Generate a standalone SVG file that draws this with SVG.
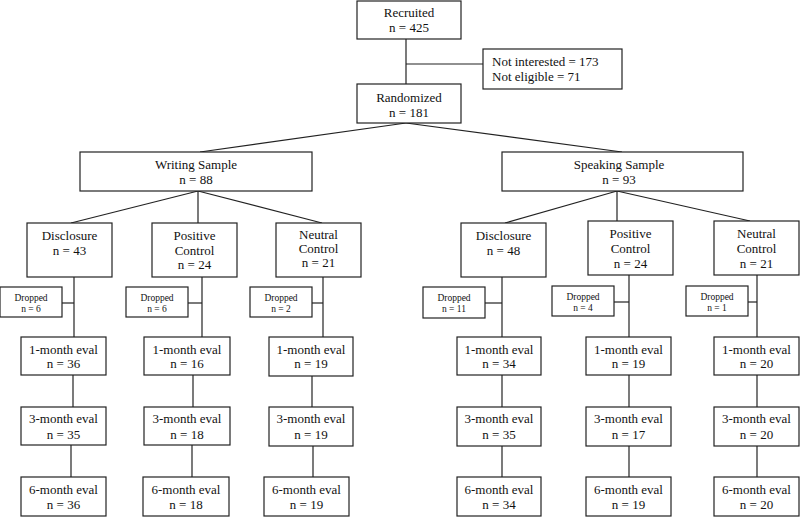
<svg xmlns="http://www.w3.org/2000/svg" width="800" height="517" viewBox="0 0 800 517">
<style>
rect{fill:#fff;stroke:#222;stroke-width:1.2}
line{stroke:#222;stroke-width:1.2}
text{font-size:13px;fill:#111;text-anchor:middle}
.s{font-size:9.5px}
.l{text-anchor:start}
</style>
<rect x="0" y="0" width="800" height="517" style="fill:#fff;stroke:none"/>
<g id="connectors">
<line x1="406" y1="39" x2="406" y2="84"/>
<line x1="406" y1="64" x2="483" y2="64"/>
<line x1="406" y1="123" x2="200" y2="152"/>
<line x1="406" y1="123" x2="622" y2="152"/>
<line x1="198" y1="191" x2="71" y2="223"/>
<line x1="198" y1="191" x2="198" y2="223"/>
<line x1="198" y1="191" x2="322" y2="223"/>
<line x1="617" y1="191" x2="505" y2="223"/>
<line x1="617" y1="191" x2="617" y2="221"/>
<line x1="617" y1="191" x2="750" y2="221"/>
<line x1="74" y1="277" x2="74" y2="337"/><line x1="62" y1="303" x2="74" y2="303"/>
<line x1="73" y1="375" x2="73" y2="407"/><line x1="71" y1="445" x2="71" y2="477"/>
<line x1="202" y1="277" x2="202" y2="337"/><line x1="188" y1="303" x2="202" y2="303"/>
<line x1="193" y1="375" x2="193" y2="407"/><line x1="192" y1="445" x2="192" y2="477"/>
<line x1="323" y1="277" x2="323" y2="337"/><line x1="312" y1="303" x2="323" y2="303"/>
<line x1="312" y1="376" x2="312" y2="407"/><line x1="313" y1="446" x2="313" y2="477"/>
<line x1="502" y1="277" x2="502" y2="337"/><line x1="485" y1="303" x2="502" y2="303"/>
<line x1="502" y1="375" x2="502" y2="407"/><line x1="502" y1="446" x2="502" y2="477"/>
<line x1="629" y1="275" x2="629" y2="337"/><line x1="614" y1="302" x2="629" y2="302"/>
<line x1="629" y1="375" x2="629" y2="407"/><line x1="629" y1="446" x2="629" y2="477"/>
<line x1="757" y1="275" x2="757" y2="337"/><line x1="748" y1="302" x2="757" y2="302"/>
<line x1="757" y1="375" x2="757" y2="407"/><line x1="757" y1="446" x2="757" y2="477"/>
</g>
<g font-family="Liberation Serif">
<g id="recruited"><rect x="357" y="1" width="104" height="38"/><text x="409" y="17">Recruited</text><text x="409" y="32">n = 425</text></g>
<g id="excluded"><rect x="483" y="49" width="139" height="40"/><text class="l" x="492" y="66">Not interested = 173</text><text class="l" x="492" y="81">Not eligible = 71</text></g>
<g id="randomized"><rect x="357" y="84" width="104" height="39"/><text x="409" y="101.5">Randomized</text><text x="409" y="116.5">n = 181</text></g>
<g id="writing"><rect x="80" y="152" width="232" height="39"/><text x="196" y="168.5">Writing Sample</text><text x="196" y="183.5">n = 88</text></g>
<g id="speaking"><rect x="502" y="152" width="241" height="39"/><text x="619" y="168.5">Speaking Sample</text><text x="619" y="183.5">n = 93</text></g>
<g id="w-disclosure"><rect x="27" y="223" width="85" height="54"/><text x="69.5" y="239.5">Disclosure</text><text x="69.5" y="254.5">n = 43</text></g>
<g id="w-positive"><rect x="152" y="223" width="85" height="54"/><text x="194.5" y="239.5">Positive</text><text x="194.5" y="254.5">Control</text><text x="194.5" y="268.5">n = 24</text></g>
<g id="w-neutral"><rect x="276" y="223" width="85" height="54"/><text x="318.5" y="239">Neutral</text><text x="318.5" y="252.5">Control</text><text x="318.5" y="267">n = 21</text></g>
<g id="s-disclosure"><rect x="461" y="223" width="85" height="54"/><text x="503.5" y="239.5">Disclosure</text><text x="503.5" y="254.5">n = 48</text></g>
<g id="s-positive"><rect x="588" y="221" width="85" height="54"/><text x="630.5" y="237.5">Positive</text><text x="630.5" y="252.5">Control</text><text x="630.5" y="267.5">n = 24</text></g>
<g id="s-neutral"><rect x="714" y="221" width="85" height="54"/><text x="756.5" y="237.5">Neutral</text><text x="756.5" y="252.5">Control</text><text x="756.5" y="267.5">n = 21</text></g>
<g id="w-d-dropped"><rect x="0" y="287" width="62" height="30"/><text class="s" x="31" y="300.5">Dropped</text><text class="s" x="31" y="311.5">n = 6</text></g>
<g id="w-p-dropped"><rect x="126" y="287" width="62" height="30"/><text class="s" x="157" y="300.5">Dropped</text><text class="s" x="157" y="311.5">n = 6</text></g>
<g id="w-n-dropped"><rect x="250" y="287" width="62" height="30"/><text class="s" x="281" y="300.5">Dropped</text><text class="s" x="281" y="311.5">n = 2</text></g>
<g id="s-d-dropped"><rect x="423" y="287" width="62" height="31"/><text class="s" x="454" y="300.5">Dropped</text><text class="s" x="454" y="311.5">n = 11</text></g>
<g id="s-p-dropped"><rect x="552" y="286" width="62" height="30"/><text class="s" x="583" y="299.5">Dropped</text><text class="s" x="583" y="310.5">n = 4</text></g>
<g id="s-n-dropped"><rect x="686" y="286" width="62" height="30"/><text class="s" x="717" y="299.5">Dropped</text><text class="s" x="717" y="310.5">n = 1</text></g>
<g id="w-d-1m"><rect x="21" y="337" width="85" height="38"/><text x="63.5" y="353.5">1-month eval</text><text x="63.5" y="367.5">n = 36</text></g>
<g id="w-d-3m"><rect x="21" y="407" width="85" height="38"/><text x="63.5" y="422.5">3-month eval</text><text x="63.5" y="438.5">n = 35</text></g>
<g id="w-d-6m"><rect x="21" y="477" width="85" height="39"/><text x="63.5" y="493.5">6-month eval</text><text x="63.5" y="508.5">n = 36</text></g>
<g id="w-p-1m"><rect x="144" y="337" width="86" height="38"/><text x="187" y="353.5">1-month eval</text><text x="187" y="367.5">n = 16</text></g>
<g id="w-p-3m"><rect x="144" y="407" width="86" height="38"/><text x="187" y="422.5">3-month eval</text><text x="187" y="438.5">n = 18</text></g>
<g id="w-p-6m"><rect x="143" y="477" width="86" height="39"/><text x="186" y="493.5">6-month eval</text><text x="186" y="508.5">n = 18</text></g>
<g id="w-n-1m"><rect x="269" y="337" width="84" height="39"/><text x="311" y="353.5">1-month eval</text><text x="311" y="367.5">n = 19</text></g>
<g id="w-n-3m"><rect x="269" y="407" width="84" height="39"/><text x="311" y="422.5">3-month eval</text><text x="311" y="438.5">n = 19</text></g>
<g id="w-n-6m"><rect x="264" y="477" width="85" height="39"/><text x="306.5" y="493.5">6-month eval</text><text x="306.5" y="508.5">n = 19</text></g>
<g id="s-d-1m"><rect x="457" y="337" width="84" height="38"/><text x="499" y="353.5">1-month eval</text><text x="499" y="367.5">n = 34</text></g>
<g id="s-d-3m"><rect x="457" y="407" width="84" height="39"/><text x="499" y="422.5">3-month eval</text><text x="499" y="438.5">n = 35</text></g>
<g id="s-d-6m"><rect x="457" y="477" width="84" height="39"/><text x="499" y="493.5">6-month eval</text><text x="499" y="508.5">n = 34</text></g>
<g id="s-p-1m"><rect x="586" y="337" width="85" height="38"/><text x="628.5" y="353.5">1-month eval</text><text x="628.5" y="367.5">n = 19</text></g>
<g id="s-p-3m"><rect x="586" y="407" width="85" height="39"/><text x="628.5" y="422.5">3-month eval</text><text x="628.5" y="438.5">n = 17</text></g>
<g id="s-p-6m"><rect x="586" y="477" width="85" height="39"/><text x="628.5" y="493.5">6-month eval</text><text x="628.5" y="508.5">n = 19</text></g>
<g id="s-n-1m"><rect x="714" y="337" width="85" height="38"/><text x="756.5" y="353.5">1-month eval</text><text x="756.5" y="367.5">n = 20</text></g>
<g id="s-n-3m"><rect x="714" y="407" width="85" height="39"/><text x="756.5" y="422.5">3-month eval</text><text x="756.5" y="438.5">n = 20</text></g>
<g id="s-n-6m"><rect x="714" y="477" width="85" height="39"/><text x="756.5" y="493.5">6-month eval</text><text x="756.5" y="508.5">n = 20</text></g>
</g>
</svg>
